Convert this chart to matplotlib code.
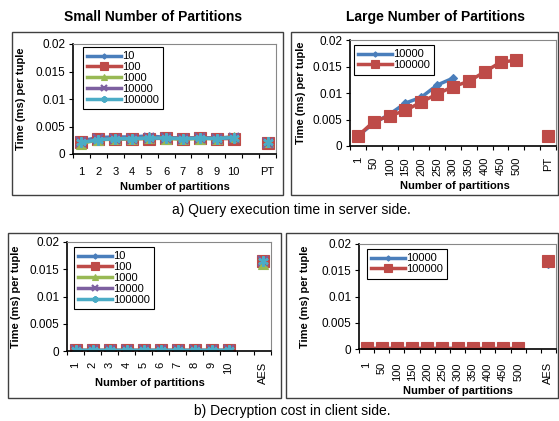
import numpy as np
import matplotlib
matplotlib.use("Agg")
import matplotlib.pyplot as plt
from matplotlib.patches import Rectangle

plt.rcParams['font.family'] = ['Liberation Sans', 'DejaVu Sans']

# ---------------- data ----------------
small_cats = ["1", "2", "3", "4", "5", "6", "7", "8", "9", "10", "", "PT"]
large_cats = ["1", "50", "100", "150", "200", "250", "300", "350", "400", "450", "500", "", "PT"]
small_cats_dec = ["1", "2", "3", "4", "5", "6", "7", "8", "9", "10", "", "AES"]
large_cats_dec = ["1", "50", "100", "150", "200", "250", "300", "350", "400", "450", "500", "", "AES"]

series_small = ["10", "100", "1000", "10000", "100000"]
series_large = ["10000", "100000"]

nan = np.nan
# a) query time, small number of partitions
q_small_10 = [0.0024, 0.0030, 0.0031, 0.0031, 0.0033, 0.0030, 0.0029, 0.0030, 0.0029, 0.0031, nan, 0.0024]
q_small_100 = [0.0021, 0.0027, 0.0027, 0.0028, 0.0028, 0.0029, 0.0028, 0.0030, 0.0028, 0.0028, nan, 0.0020]
q_small_1000 = [0.0019, 0.0026, 0.0027, 0.0027, 0.0029, 0.0028, 0.0027, 0.0028, 0.0028, 0.0031, nan, 0.0021]
q_small_10000 = [0.0021, 0.0027, 0.0028, 0.0028, 0.0029, 0.0029, 0.0028, 0.0029, 0.0028, 0.0030, nan, 0.0020]
q_small_100000 = [0.0021, 0.0026, 0.0028, 0.0028, 0.0029, 0.0029, 0.0028, 0.0029, 0.0028, 0.0030, nan, 0.0021]
# a) query time, large number of partitions
q_large_10000 = [0.0019, 0.0043, 0.0060, 0.0081, 0.0092, 0.0115, 0.0128, nan, nan, nan, nan, nan, 0.0020]
q_large_100000 = [0.0019, 0.0046, 0.0057, 0.0067, 0.0083, 0.0098, 0.0112, 0.0122, 0.0140, 0.0158, 0.0162, nan, 0.0019]
# b) decryption, small number of partitions
d_small_10 = [0.0001] * 10 + [nan, 0.0158]
d_small_100 = [0.0001] * 10 + [nan, 0.0165]
d_small_1000 = [0.0001] * 10 + [nan, 0.0160]
d_small_10000 = [0.0001] * 10 + [nan, 0.0166]
d_small_100000 = [0.0001] * 10 + [nan, 0.0165]
# b) decryption, large number of partitions
d_large_10000 = [0.0001] * 7 + [nan] * 5 + [0.0162]
d_large_100000 = [0.0001] * 11 + [nan, 0.0167]

yticks = [0, 0.005, 0.01, 0.015, 0.02]
ytick_labels = ["0", "0.005", "0.01", "0.015", "0.02"]

colors = ["#4A7EBB", "#BE4B48", "#98B954", "#7D60A0", "#4BACC6"]
markers = ["D", "s", "^", "x", (6, 2, 0)]
msizes = [4.5, 8.5, 6.5, 6.5, 7.5]

W, H = 559, 421
fig = plt.figure(figsize=(W / 100, H / 100), dpi=100)


def fr(x0, y0, x1, y1):
    return [x0 / W, 1 - y1 / H, (x1 - x0) / W, (y1 - y0) / H]


def add_box(x0, y0, x1, y1):
    fig.patches.append(Rectangle((x0 / W, 1 - y1 / H), (x1 - x0) / W, (y1 - y0) / H,
                                 transform=fig.transFigure, fill=False,
                                 edgecolor="#404040", linewidth=1.0))


def make_panel(rect, cats, data, names, styles, rotate, leg_xy, ylab_x, xlab_xy, xpad):
    ax = fig.add_axes(fr(*rect))
    n = len(cats)
    x = np.arange(n)
    for vals, name, si in zip(data, names, styles):
        ax.plot(x, vals, color=colors[si], marker=markers[si], markersize=msizes[si],
                markeredgewidth=1.6 if si in (3, 4) else 0.8, markeredgecolor=colors[si],
                linewidth=2.5, label=name)
    ax.set_xlim(-0.5, n - 0.5)
    ax.set_ylim(0, 0.02)
    ax.set_yticks(yticks)
    ax.set_yticklabels(ytick_labels, fontsize=8.5)
    ax.set_xticks(x)
    ax.set_xticklabels(cats, fontsize=8, rotation=90 if rotate else 0)
    ax.set_xticks(np.arange(n + 1) - 0.5, minor=True)
    ax.tick_params(axis='x', which='major', length=0, pad=xpad)
    ax.tick_params(axis='x', which='minor', length=3, direction='out', width=0.8)
    ax.tick_params(axis='y', length=3, width=0.8, pad=2.5)
    for s in ("top", "right"):
        ax.spines[s].set_color("#888888")
        ax.spines[s].set_linewidth(0.8)
    for s in ("left", "bottom"):
        ax.spines[s].set_color("black")
        ax.spines[s].set_linewidth(1.2)
    ax.set_xlabel("Number of partitions", fontsize=8, fontweight='bold')
    ax.set_ylabel("Time (ms) per tuple", fontsize=8, fontweight='bold')
    x0, y0, x1, y1 = rect
    ax.yaxis.set_label_coords((ylab_x - x0) / (x1 - x0), 0.5)
    ax.xaxis.set_label_coords((xlab_xy[0] - x0) / (x1 - x0), (y1 - xlab_xy[1]) / (y1 - y0))
    leg = ax.legend(loc='upper left', bbox_to_anchor=(leg_xy[0] / W, 1 - leg_xy[1] / H),
                    bbox_transform=fig.transFigure, fontsize=8, frameon=True,
                    fancybox=False, edgecolor="black", framealpha=1, borderaxespad=0,
                    handlelength=3.0, handletextpad=0.1, labelspacing=0.08,
                    borderpad=0.4, markerscale=0.6)
    leg.get_frame().set_linewidth(0.8)
    return ax


# boxes
add_box(12, 32, 283, 195)
add_box(291, 32, 558, 195)
add_box(8, 233, 281, 398)
add_box(286, 233, 558, 398)

make_panel((73, 44, 276, 154), small_cats,
           [q_small_10, q_small_100, q_small_1000, q_small_10000, q_small_100000],
           series_small, [0, 1, 2, 3, 4], False, (83, 47), 26, (174.5, 181.5), 9.5)
make_panel((350, 40, 556, 146), large_cats,
           [q_large_10000, q_large_100000], series_large, [0, 1], True, (354, 45), 306,
           (455, 181.5), 8)
make_panel((67, 242, 271, 351), small_cats_dec,
           [d_small_10, d_small_100, d_small_1000, d_small_10000, d_small_100000],
           series_small, [0, 1, 2, 3, 4], True, (74, 247), 21, (150, 377.5), 7.5)
make_panel((359, 244, 556, 349), large_cats_dec,
           [d_large_10000, d_large_100000], series_large, [0, 1], True, (367, 249), 310,
           (458, 385.5), 9.5)

fig.text(153.5 / W, 1 - 17 / H, "Small Number of Partitions", ha='center', va='center',
         fontsize=10, fontweight='bold')
fig.text(435 / W, 1 - 17 / H, "Large Number of Partitions", ha='center', va='center',
         fontsize=10, fontweight='bold')
fig.text(291 / W, 1 - 210 / H, "a) Query execution time in server side.", ha='center',
         va='center', fontsize=10)
fig.text(292 / W, 1 - 411 / H, "b) Decryption cost in client side.", ha='center',
         va='center', fontsize=10)

fig.savefig("out.png", dpi=100, facecolor="white")
